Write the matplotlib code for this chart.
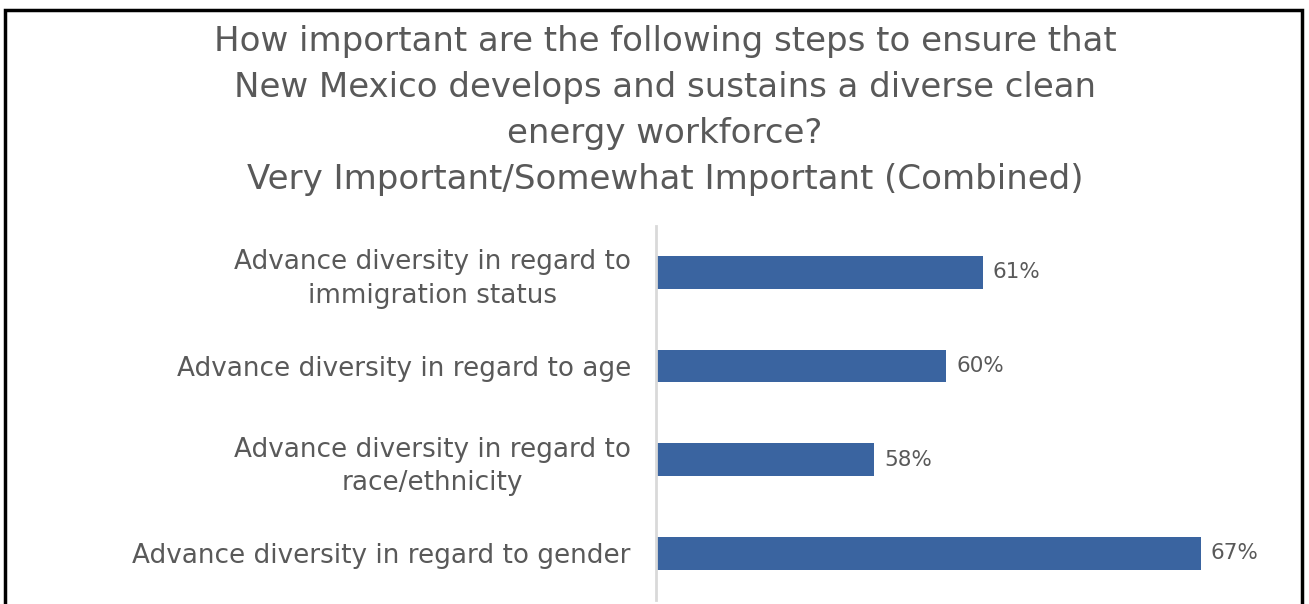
import numpy as np
import matplotlib.pyplot as plt
from matplotlib.patches import Rectangle

# data (top to bottom)
categories = [
    "Advance diversity in regard to\nimmigration status",
    "Advance diversity in regard to age",
    "Advance diversity in regard to\nrace/ethnicity",
    "Advance diversity in regard to gender",
]
values = [61, 60, 58, 67]
value_labels = ["61%", "60%", "58%", "67%"]

title = ("How important are the following steps to ensure that\n"
         "New Mexico develops and sustains a diverse clean\n"
         "energy workforce?\n"
         "Very Important/Somewhat Important (Combined)")

text_color = "#595959"
bar_color = "#3A64A0"


def main():
    plt.rcParams['font.family'] = ['DejaVu Sans']
    fig = plt.figure(figsize=(13.09, 6.04), dpi=100)
    ax = fig.add_axes([0.501, 0.0066, 0.444, 0.62])

    y = np.arange(len(categories))[::-1]
    ax.barh(y, values, height=0.35, color=bar_color, left=0)
    ax.set_xlim(52, 68)
    ax.set_ylim(-0.5, len(categories) - 0.5)

    for yi, v, lab in zip(y, values, value_labels):
        ax.text(v + 0.28, yi, lab, va='center', ha='left',
                fontsize=15.5, color=text_color)

    ax.set_yticks(y)
    ax.set_yticklabels(categories, fontsize=18.9, color=text_color,
                       linespacing=1.39, multialignment='center')
    ax.tick_params(axis='y', length=0, pad=18)
    ax.set_xticks([])
    for s in ['top', 'right', 'bottom']:
        ax.spines[s].set_visible(False)
    ax.spines['left'].set_color('#d9d9d9')
    ax.spines['left'].set_linewidth(2)

    fig.text(0.508, 0.958, title, ha='center', va='top', fontsize=24.5,
             color=text_color, linespacing=1.5)

    # black frame around the chart, open at the bottom
    frame = Rectangle((0.004, -0.1), 0.991, 1.083, transform=fig.transFigure,
                      fill=False, edgecolor='black', linewidth=2.5,
                      clip_on=False)
    fig.patches.append(frame)

    fig.savefig('out.png', dpi=100)


if __name__ == "__main__":
    main()
